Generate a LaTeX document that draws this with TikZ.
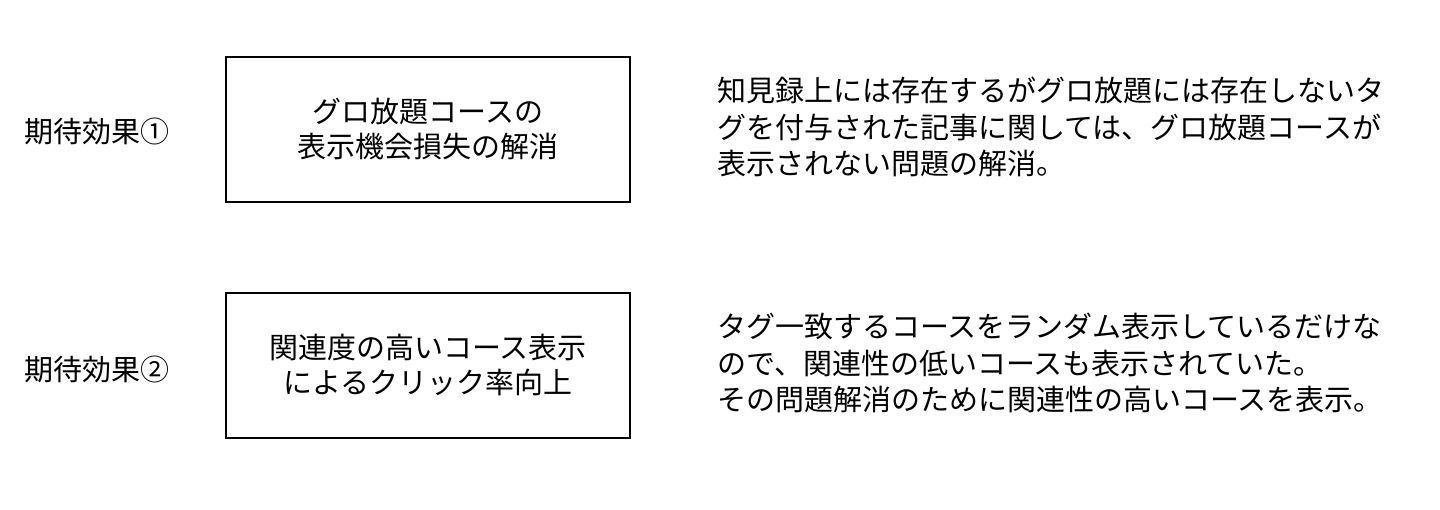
\documentclass[tikz,border=0pt]{standalone}
\usepackage{fontspec}
\setmainfont{Noto Sans CJK JP}
\begin{document}
\begin{tikzpicture}[x=1pt,y=-1pt,
  lbl/.style={anchor=west,inner sep=0pt,font=\fontsize{29}{35}\selectfont},
  effbox/.style={draw=black,line width=1.2pt,minimum width=404pt,minimum height=145pt,inner sep=0pt,align=center,font=\fontsize{29}{35}\selectfont},
  desc/.style={anchor=west,inner sep=0pt,align=left,font=\fontsize{29}{36.5}\selectfont}]
\useasboundingbox (0,0) rectangle (1440,509);
\node[lbl] (l1) at (24,131) {期待効果①};
\node[lbl] (l2) at (24,369) {期待効果②};
\node[effbox] (b1) at (428,129.5) {グロ放題コースの\\表示機会損失の解消};
\node[effbox] (b2) at (428,365.5) {関連度の高いコース表示\\によるクリック率向上};
\node[desc] (d1) at (717,127) {知見録上には存在するがグロ放題には存在しないタ\\グを付与された記事に関しては、グロ放題コースが\\表示されない問題の解消。};
\node[desc] (d2) at (717,363) {タグ一致するコースをランダム表示しているだけな\\ので、関連性の低いコースも表示されていた。\\その問題解消のために関連性の高いコースを表示。};
\end{tikzpicture}
\end{document}
